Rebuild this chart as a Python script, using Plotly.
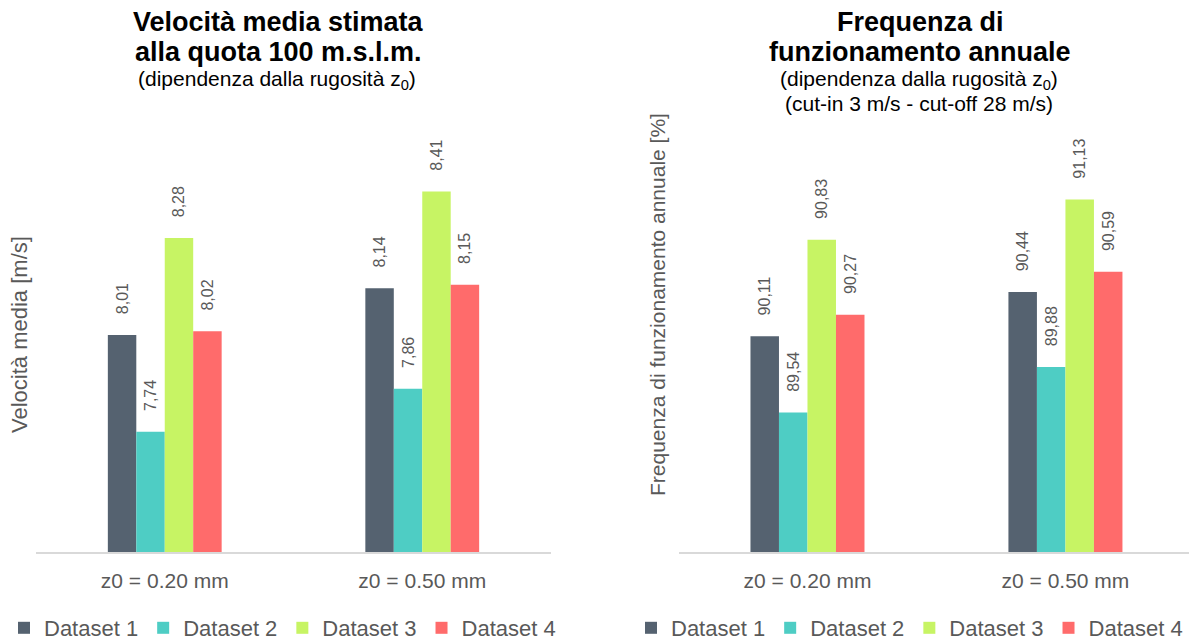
import plotly.graph_objects as go

# --- data -------------------------------------------------------------
categories = ["z0 = 0.20 mm", "z0 = 0.50 mm"]
series_names = ["Dataset 1", "Dataset 2", "Dataset 3", "Dataset 4"]

velocita = {
    "Dataset 1": [8.01, 8.14],
    "Dataset 2": [7.74, 7.86],
    "Dataset 3": [8.28, 8.41],
    "Dataset 4": [8.02, 8.15],
}
frequenza = {
    "Dataset 1": [90.11, 90.44],
    "Dataset 2": [89.54, 89.88],
    "Dataset 3": [90.83, 91.13],
    "Dataset 4": [90.27, 90.59],
}

colors = ["#556270", "#4ECDC4", "#C7F464", "#FF6B6B"]

# --- layout helpers ---------------------------------------------------
W, H = 1189, 641
FONT = "Liberation Sans, Arial, sans-serif"
GREY = "#595959"


def px_x(p):
    return p / W


def px_y(p):
    return 1 - p / H


fig = go.Figure()

label_style = dict(
    texttemplate="\u00a0\u00a0\u00a0\u00a0%{y:.2f}", textposition="outside",
    textangle=-90, textfont=dict(size=16, color=GREY, family=FONT),
    cliponaxis=False, constraintext="none", hoverinfo="skip",
)

for i, name in enumerate(series_names):
    fig.add_trace(go.Bar(
        x=categories, y=velocita[name], name=name,
        marker=dict(color=colors[i], line=dict(width=0)),
        xaxis="x", yaxis="y", legend="legend", **label_style,
    ))
for i, name in enumerate(series_names):
    fig.add_trace(go.Bar(
        x=categories, y=frequenza[name], name=name,
        marker=dict(color=colors[i], line=dict(width=0)),
        xaxis="x2", yaxis="y2", legend="legend2", **label_style,
    ))

bottom = px_y(552)
top = px_y(115)

xcommon = dict(
    type="category", showline=True, linecolor="#d9d9d9", linewidth=2,
    ticks="", showgrid=False, zeroline=False,
    tickfont=dict(size=21, color=GREY, family=FONT), ticklabelstandoff=9,
)
ycommon = dict(showgrid=False, zeroline=False, showline=False,
               showticklabels=False, ticks="")

legend_common = dict(
    orientation="h", yanchor="middle", xanchor="left",
    xref="container", yref="container",
    font=dict(size=22, color=GREY, family=FONT),
    bgcolor="rgba(0,0,0,0)", borderwidth=0, itemclick=False,
    tracegroupgap=0,
)

fig.update_layout(
    width=W, height=H, autosize=False,
    margin=dict(l=0, r=0, t=0, b=0, autoexpand=False),
    paper_bgcolor="white", plot_bgcolor="white",
    separators=",.",
    barmode="group", bargap=0.558, bargroupgap=0,
    font=dict(family=FONT, color=GREY),
    xaxis=dict(domain=[px_x(36), px_x(551)], range=[-0.5, 1.5],
               anchor="y", **xcommon),
    yaxis=dict(domain=[bottom, top], range=[7.405, 8.623],
               anchor="x", **ycommon),
    xaxis2=dict(domain=[px_x(678.5), 1.0], range=[-0.5, 1.479],
                anchor="y2", **xcommon),
    yaxis2=dict(domain=[bottom, top], range=[88.5, 91.76],
                anchor="x2", **ycommon),
    legend=dict(x=px_x(4), y=px_y(628), **legend_common),
    legend2=dict(x=px_x(631), y=px_y(628), **legend_common),
    showlegend=True,
)


def note(text, x, y, size, bold=False, color="#000000", angle=0):
    fig.add_annotation(
        text=f"<b>{text}</b>" if bold else text,
        xref="paper", yref="paper", x=px_x(x), y=px_y(y),
        xanchor="center", yanchor="middle", showarrow=False,
        textangle=angle, font=dict(size=size, color=color, family=FONT),
    )


# chart titles
note("Velocità media stimata", 278, 22, 27, bold=True)
note("alla quota 100 m.s.l.m.", 278, 52, 27, bold=True)
note("(dipendenza dalla rugosità z<sub>0</sub>)", 277, 80, 21)

note("Frequenza di", 920, 22, 27, bold=True)
note("funzionamento annuale", 920, 52, 27, bold=True)
note("(dipendenza dalla rugosità z<sub>0</sub>)", 919, 80, 21)
note("(cut-in 3 m/s - cut-off 28 m/s)", 919, 104, 21)

# axis titles
note("Velocità media [m/s]", 19, 335, 22, color=GREY, angle=-90)
note("Frequenza di funzionamento annuale [%]", 657, 305, 21, color=GREY, angle=-90)

fig.write_html("out.html")
